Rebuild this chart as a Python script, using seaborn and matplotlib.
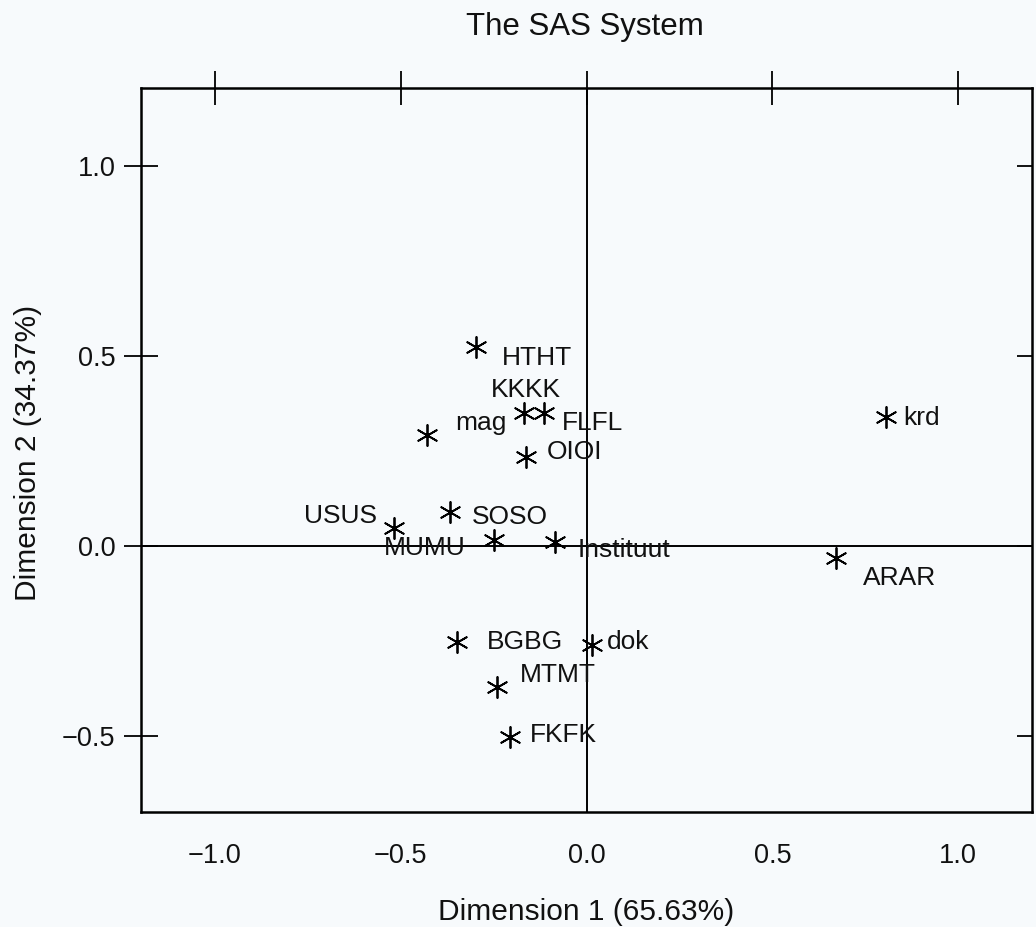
import matplotlib
matplotlib.use("Agg")
import matplotlib.pyplot as plt
import seaborn as sns
import pandas as pd

# ---- data ----
labels = ["HTHT", "KKKK", "FLFL", "mag", "OIOI", "USUS", "SOSO", "MUMU",
          "Instituut", "BGBG", "dok", "MTMT", "FKFK", "krd", "ARAR"]
dim1 = [-0.297, -0.169, -0.115, -0.429, -0.164, -0.519, -0.367, -0.250,
        -0.084, -0.349, 0.015, -0.241, -0.205, 0.806, 0.671]
dim2 = [0.524, 0.349, 0.349, 0.292, 0.235, 0.047, 0.090, 0.016,
        0.011, -0.252, -0.261, -0.370, -0.502, 0.340, -0.032]
xticks = [-1.0, -0.5, 0.0, 0.5, 1.0]
yticks = [-0.5, 0.0, 0.5, 1.0]
title = "The SAS System"
xlabel = "Dimension 1 (65.63%)"
ylabel = "Dimension 2 (34.37%)"

# ---- label placement (layout: pixel offsets from the point, alignment) ----
label_pos = {
    "HTHT": (26, -11, "left"), "KKKK": (2, 23, "center"), "FLFL": (18, -10, "left"),
    "mag": (28, 12, "left"), "OIOI": (21, 5, "left"), "USUS": (-17, 12, "right"),
    "SOSO": (22, -5, "left"), "MUMU": (-28, -8, "right"), "Instituut": (22, -8, "left"),
    "BGBG": (30, 0, "left"), "dok": (15, 3, "left"), "MTMT": (23, 12, "left"),
    "FKFK": (20, 2, "left"), "krd": (17, -1, "left"), "ARAR": (27, -20, "left"),
}

df = pd.DataFrame({"label": labels, "d1": dim1, "d2": dim2})

sns.set_style("white")
plt.rcParams["font.family"] = ["Liberation Sans", "DejaVu Sans"]
plt.rcParams["text.color"] = "#111111"
plt.rcParams["axes.labelcolor"] = "#111111"
bg = "#f7fafc"
fig = plt.figure(figsize=(10.36, 9.27), dpi=100, facecolor=bg)
ax = fig.add_axes([0.1357, 0.124, 0.8609, 0.781])
ax.set_facecolor(bg)

ax.axvline(0, color="black", lw=1.4, zorder=1)
ax.axhline(0, color="black", lw=1.4, zorder=1)

sns.scatterplot(data=df, x="d1", y="d2", ax=ax, marker=(6, 2, 0), s=230,
                color="black", edgecolor="black", linewidth=1.3, zorder=3)

for lab, x, y in zip(labels, dim1, dim2):
    dx, dy, ha = label_pos[lab]
    ax.annotate(lab, (x, y), xytext=(dx, dy), textcoords="offset pixels",
                ha=ha, va="center", fontsize=19, color="#111111", zorder=4)

xlim = (-1.2, 1.2)
ylim = (-0.70, 1.205)
ax.set_xlim(*xlim)
ax.set_ylim(*ylim)
ax.set_xticks(xticks)
ax.set_yticks(yticks)
ax.set_xticklabels([f"{v:.1f}".replace("-", "\u2212") for v in xticks])
ax.set_yticklabels([f"{v:.1f}".replace("-", "\u2212") for v in yticks])
ax.tick_params(axis="both", which="major", direction="inout", length=24, width=1.3,
               labelsize=19.5, colors="black", labelcolor="#111111", pad=6)
ax.tick_params(axis="x", top=True, pad=10)
ax.tick_params(axis="y", right=False)
for s in ax.spines.values():
    s.set_visible(True)
    s.set_color("black")
    s.set_linewidth(1.8)

# right-hand ticks point inward only
ax2 = ax.twinx()
ax2.set_ylim(*ylim)
ax2.set_yticks(yticks)
ax2.tick_params(axis="y", direction="in", length=11, width=1.3, labelright=False,
                colors="black")
for s in ax2.spines.values():
    s.set_visible(False)

ax.set_xlabel(xlabel, fontsize=21.5, color="#111111")
ax.xaxis.set_label_coords(0.4994, -0.138)
ax.xaxis.label.set_va("center")
ax.set_ylabel(ylabel, fontsize=21.5, color="#111111")
ax.yaxis.set_label_coords(-0.126, 0.496)
ax.yaxis.label.set_va("center")
fig.text(0.5647, 0.971, title, ha="center", va="center", fontsize=22.5, color="#111111")

fig.savefig("out.png", dpi=100, facecolor=bg)
